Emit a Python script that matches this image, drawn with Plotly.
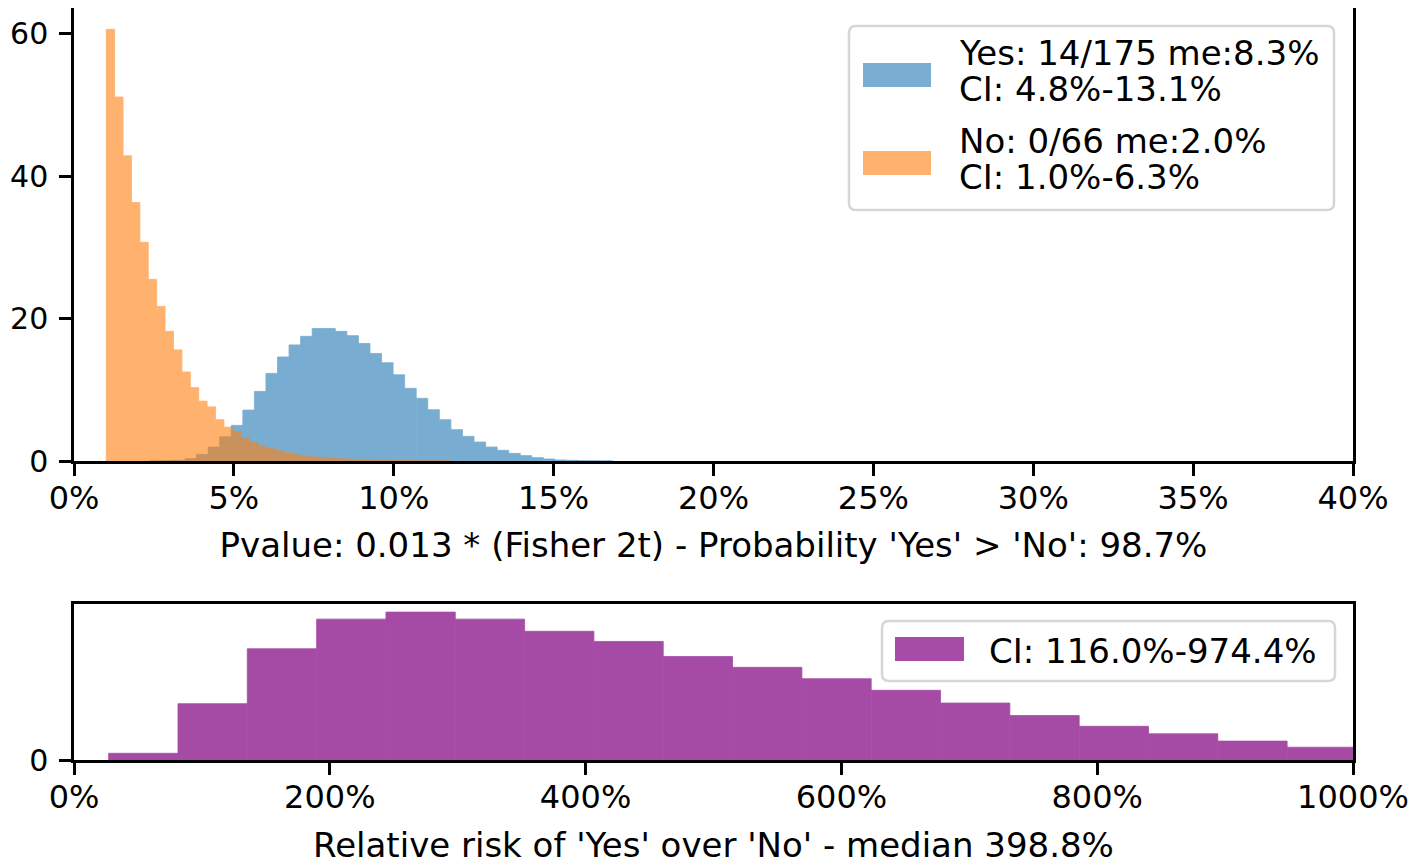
import numpy as np
import plotly.graph_objects as go

# ---------------- data ----------------
no_counts = [60.6, 51.1, 42.85, 36.3, 30.7, 25.5, 21.7, 18.2, 15.6, 12.5, 10.3, 8.4,
             7.6, 5.8, 4.75, 4.1, 3.2, 2.6, 2.1, 1.78, 1.45, 1.17, 0.93, 0.75, 0.6,
             0.5, 0.42, 0.33, 0.28, 0.23, 0.18, 0.14, 0.11, 0.09, 0.07, 0.05, 0.04,
             0.03, 0.02, 0.02, 0.01]
no_bin_start = 1.008
no_bin_width = 0.263

yes_counts = [0.02, 0.05, 0.1, 0.33, 0.93, 1.96, 3.4, 5.0, 7.15, 9.77, 12.3, 14.6,
              16.3, 17.5, 18.6, 18.6, 18.2, 17.6, 16.5, 15.1, 13.8, 12.1, 10.2, 8.8,
              7.2, 5.8, 4.4, 3.46, 2.66, 1.96, 1.5, 1.07, 0.75, 0.47, 0.28, 0.14,
              0.09, 0.04, 0.02, 0.01]
yes_bin_start = 2.388
yes_bin_width = 0.3615

rr_heights = [0.043, 0.361, 0.713, 0.903, 0.948, 0.903, 0.825, 0.760, 0.663, 0.594,
              0.521, 0.447, 0.365, 0.285, 0.216, 0.168, 0.121, 0.082]
rr_bin_start = 27.1
rr_bin_width = 54.2

top_xticks = [0, 5, 10, 15, 20, 25, 30, 35, 40]
top_yticks = [0, 20, 40, 60]
bottom_xticks = [0, 200, 400, 600, 800, 1000]
bottom_yticks = [0]

yes_label_lines = ["Yes: 14/175 me:8.3%", "CI: 4.8%-13.1%"]
no_label_lines = ["No: 0/66 me:2.0%", "CI: 1.0%-6.3%"]
rr_label = "CI: 116.0%-974.4%"
top_xlabel = "Pvalue: 0.013 * (Fisher 2t) - Probability 'Yes' > 'No': 98.7%"
bottom_xlabel = "Relative risk of 'Yes' over 'No' - median 398.8%"

# ---------------- layout geometry ----------------
# the page body has an 8px margin, so the figure is shifted by 8px
PAGE_OFF = 8
REF_W, REF_H = 1417, 867
W, H = REF_W - PAGE_OFF, REF_H - PAGE_OFF
PL, PR, PT, PB = 74, 1353, 8, 760          # plot frame in page pixels
ML, MR, MT, MB = PL - PAGE_OFF, REF_W - PR, PT - PAGE_OFF, REF_H - PB
FONT = "DejaVu Sans"
FS = 34        # legend text and axis titles
FS_XT = 32     # x tick labels
FS_YT = 30     # y tick labels

def px(x):
    return (x - PL) / (PR - PL)

def py(y):
    return (PB - y) / (PB - PT)

def bins(start, width, n):
    edges = start + width * np.arange(n + 1)
    return (edges[:-1] + edges[1:]) / 2, np.full(n, width)

BLUE = "#1f77b4"
ORANGE = "#ff7f0e"
PURPLE = "#800080"

fig = go.Figure()
xc, wd = bins(yes_bin_start, yes_bin_width, len(yes_counts))
fig.add_trace(go.Bar(x=xc, y=yes_counts, width=wd,
                     marker=dict(color=BLUE, line=dict(width=0.8, color=BLUE)),
                     opacity=0.6, xaxis="x", yaxis="y", showlegend=False))
xc, wd = bins(no_bin_start, no_bin_width, len(no_counts))
fig.add_trace(go.Bar(x=xc, y=no_counts, width=wd,
                     marker=dict(color=ORANGE, line=dict(width=0.8, color=ORANGE)),
                     opacity=0.6, xaxis="x", yaxis="y", showlegend=False))
xc, wd = bins(rr_bin_start, rr_bin_width, len(rr_heights))
fig.add_trace(go.Bar(x=xc, y=rr_heights, width=wd,
                     marker=dict(color=PURPLE, line=dict(width=0.8, color=PURPLE)),
                     opacity=0.7, xaxis="x2", yaxis="y2", showlegend=False))

axis_common = dict(showline=True, mirror=True, linecolor="black", linewidth=2.5,
                   ticks="outside", ticklen=12, tickwidth=2.5, tickcolor="black",
                   showgrid=False, zeroline=False)
xt_font = dict(family=FONT, size=FS_XT, color="black")
yt_font = dict(family=FONT, size=FS_YT, color="black")

fig.update_layout(
    width=W, height=H,
    margin=dict(l=ML, r=MR, t=MT, b=MB, pad=0, autoexpand=False),
    paper_bgcolor="white", plot_bgcolor="white",
    barmode="overlay",
    font=dict(family=FONT, size=FS, color="black"),
    xaxis=dict(domain=[0, 1], range=[0, 40], tickvals=top_xticks,
               ticktext=[f"{v}%" for v in top_xticks], anchor="y",
               ticklabelstandoff=-5, tickfont=xt_font,
               title=dict(text=top_xlabel, font=dict(family=FONT, size=FS), standoff=18),
               **axis_common),
    yaxis=dict(domain=[py(461), 1], range=[0, 63.6], tickvals=top_yticks, anchor="x",
               ticklabelstandoff=5, tickfont=yt_font, **axis_common),
    xaxis2=dict(domain=[0, 1], range=[0, 1000], tickvals=bottom_xticks,
                ticktext=[f"{v}%" for v in bottom_xticks], anchor="y2",
                ticklabelstandoff=-5, tickfont=xt_font,
                title=dict(text=bottom_xlabel, font=dict(family=FONT, size=FS), standoff=19),
                **axis_common),
    yaxis2=dict(domain=[0, py(604)], range=[0, 1.0], tickvals=bottom_yticks, anchor="x2",
                ticklabelstandoff=5, tickfont=yt_font, **axis_common),
)

def rrect(x0, y0, x1, y1, r):
    X = lambda v: f"{px(v):.5f}"
    Y = lambda v: f"{py(v):.5f}"
    return (f"M {X(x0+r)},{Y(y0)} L {X(x1-r)},{Y(y0)} Q {X(x1)},{Y(y0)} {X(x1)},{Y(y0+r)} "
            f"L {X(x1)},{Y(y1-r)} Q {X(x1)},{Y(y1)} {X(x1-r)},{Y(y1)} "
            f"L {X(x0+r)},{Y(y1)} Q {X(x0)},{Y(y1)} {X(x0)},{Y(y1-r)} "
            f"L {X(x0)},{Y(y0+r)} Q {X(x0)},{Y(y0)} {X(x0+r)},{Y(y0)} Z")

shapes = []
annotations = []

def legend_box(x0, y0, x1, y1):
    shapes.append(dict(type="path", xref="paper", yref="paper", path=rrect(x0, y0, x1, y1, 7),
                       fillcolor="rgba(255,255,255,0.8)", line=dict(color="#d6d6d6", width=2.5),
                       layer="above"))

def patch(x0, y0, x1, y1, color):
    shapes.append(dict(type="rect", xref="paper", yref="paper", x0=px(x0), x1=px(x1),
                       y0=py(y1), y1=py(y0), fillcolor=color, line=dict(width=0), layer="above"))

def text(x, yc, s):
    annotations.append(dict(text=s, x=px(x), y=py(yc), xref="paper", yref="paper",
                            xanchor="left", yanchor="middle", showarrow=False,
                            font=dict(family=FONT, size=FS, color="black")))

# top legend
legend_box(849, 26, 1334, 210)
patch(863, 63, 931, 87, "rgba(31,119,180,0.6)")
patch(863, 151, 931, 175, "rgba(255,127,14,0.6)")
text(957, 53, yes_label_lines[0])
text(957, 89, yes_label_lines[1])
text(957, 141, no_label_lines[0])
text(957, 177, no_label_lines[1])

# bottom legend
legend_box(882, 621, 1335, 681)
patch(895, 637, 964, 661, "rgba(128,0,128,0.7)")
text(987, 651, rr_label)

fig.update_layout(shapes=shapes, annotations=annotations)
fig.write_html("out.html")
